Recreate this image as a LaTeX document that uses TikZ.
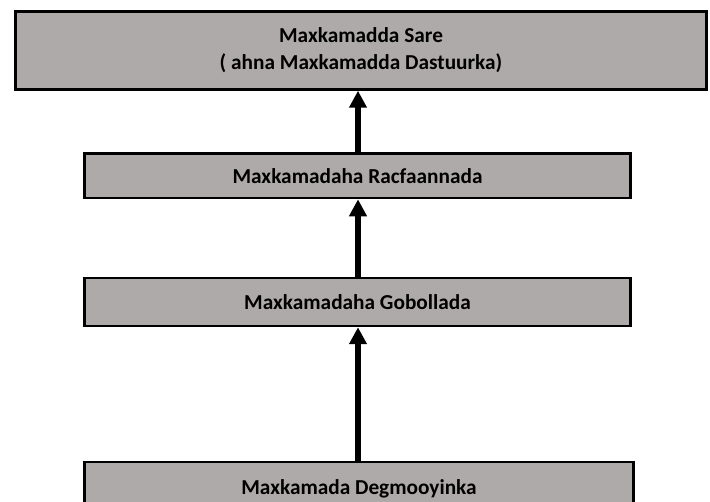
\documentclass[tikz,border=0pt]{standalone}
\usepackage{fontspec}
\setmainfont{Carlito}
\usetikzlibrary{arrows.meta}
\definecolor{boxgray}{RGB}{174,170,169}
\begin{document}
\begin{tikzpicture}[x=1pt,y=-1pt,
  court/.style={draw=black,line width=2.5pt,fill=boxgray,inner sep=0pt,
    font=\fontsize{21.3}{27}\selectfont\bfseries,align=center},
  up/.style={line width=5.5pt,-{Triangle[length=17pt,width=17pt]}}]
\useasboundingbox (0,0) rectangle (710,502);
\node[court,minimum width=691pt,minimum height=78pt] (sare) at (361,50.5) {\raisebox{-2pt}{Maxkamadda Sare}\\\raisebox{-2pt}{( ahna Maxkamadda Dastuurka)}};
\node[court,minimum width=546pt,minimum height=44.5pt] (racf) at (357.5,175.8) {\raisebox{-2pt}{Maxkamadaha Racfaannada}};
\node[court,minimum width=546pt,minimum height=48pt] (gob) at (357.5,302) {Maxkamadaha Gobollada};
\node[court,minimum width=549pt,minimum height=56pt,text depth=0pt] (deg) at (359,490) {\raisebox{5pt}{Maxkamada Degmooyinka}};
\draw[up] (racf.north -| 358,0) -- (sare.south -| 358,0);
\draw[up] (gob.north -| 358,0) -- (racf.south -| 358,0);
\draw[up] (deg.north -| 358,0) -- (gob.south -| 358,0);
\end{tikzpicture}
\end{document}
